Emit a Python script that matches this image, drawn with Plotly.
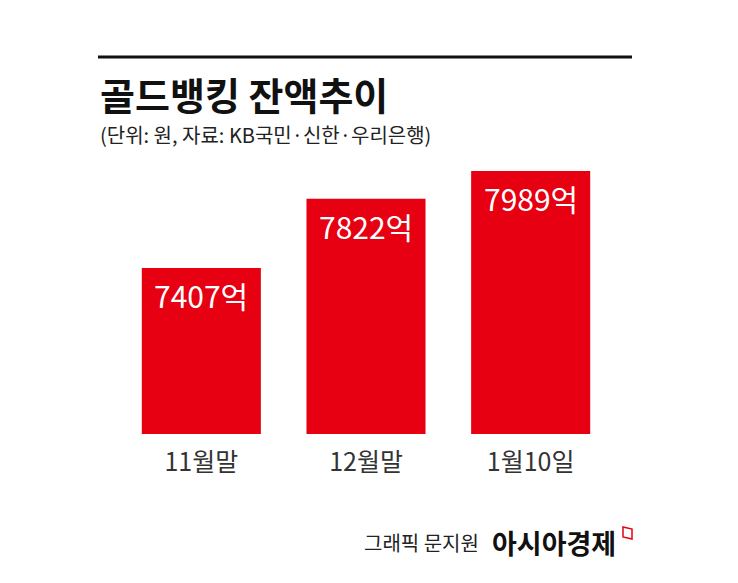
import plotly.graph_objects as go

categories = ["11월말", "12월말", "1월10일"]
values = [7407, 7822, 7989]
value_labels = ["7407억", "7822억", "7989억"]

title_text = "골드뱅킹 잔액추이"
subtitle_text = "(단위: 원, 자료: KB국민·신한·우리은행)"
credit_text = "그래픽 문지원"
brand_text = "아시아경제"

RED = "#e60012"
FONT = "Noto Sans CJK KR"
W, H = 738, 583

fig = go.Figure()
fig.add_trace(go.Bar(
    x=categories, y=values, marker=dict(color=RED, line=dict(width=0)),
    width=0.723, hoverinfo="skip",
))

for c, v, t in zip(categories, values, value_labels):
    fig.add_annotation(
        x=c, y=v, xref="x", yref="y", text=t, showarrow=False,
        yanchor="top", yshift=-3,
        font=dict(family=FONT, size=30, color="white"),
    )

def px(x):
    return (x - 119) / 494

def py(y):
    return (434 - y) / 274

# header rule
fig.add_shape(type="line", xref="paper", yref="paper",
              x0=px(98), x1=px(632), y0=py(57), y1=py(57),
              line=dict(color="#111111", width=3))

fig.add_annotation(xref="paper", yref="paper", x=px(98), y=py(93), xanchor="left", yanchor="middle",
                   text=title_text, showarrow=False,
                   font=dict(family=FONT, size=38, color="#111111", weight=700))
fig.add_annotation(xref="paper", yref="paper", x=px(98), y=py(134), xanchor="left", yanchor="middle",
                   text=subtitle_text, showarrow=False,
                   font=dict(family=FONT, size=20, color="#222222"))
fig.add_annotation(xref="paper", yref="paper", x=px(481), y=py(542), xanchor="right", yanchor="middle",
                   text=credit_text, showarrow=False,
                   font=dict(family=FONT, size=20, color="#222222"))
fig.add_annotation(xref="paper", yref="paper", x=px(618), y=py(542), xanchor="right", yanchor="middle",
                   text=brand_text, showarrow=False,
                   font=dict(family=FONT, size=27, color="#111111", weight=700))
# small red logo mark
fig.add_shape(type="path", xref="paper", yref="paper",
              path=f"M {px(623)} {py(527)} L {px(623)} {py(537)} L {px(632)} {py(539)} L {px(632)} {py(529)} Z",
              line=dict(color=RED, width=1.5), fillcolor="rgba(0,0,0,0)")

fig.update_layout(
    width=W, height=H,
    margin=dict(l=119, r=W - 613, t=160, b=H - 434),
    paper_bgcolor="white", plot_bgcolor="white",
    showlegend=False, bargap=0.277,
    xaxis=dict(showgrid=False, zeroline=False, showline=False, ticks="",
               tickfont=dict(family=FONT, size=25, color="#333333"),
               ticklabelstandoff=11, fixedrange=True),
    yaxis=dict(range=[6411, 8055], visible=False, fixedrange=True),
)

fig.write_html("out.html", config={"displayModeBar": False},
               post_script="document.body.style.margin='0';")
